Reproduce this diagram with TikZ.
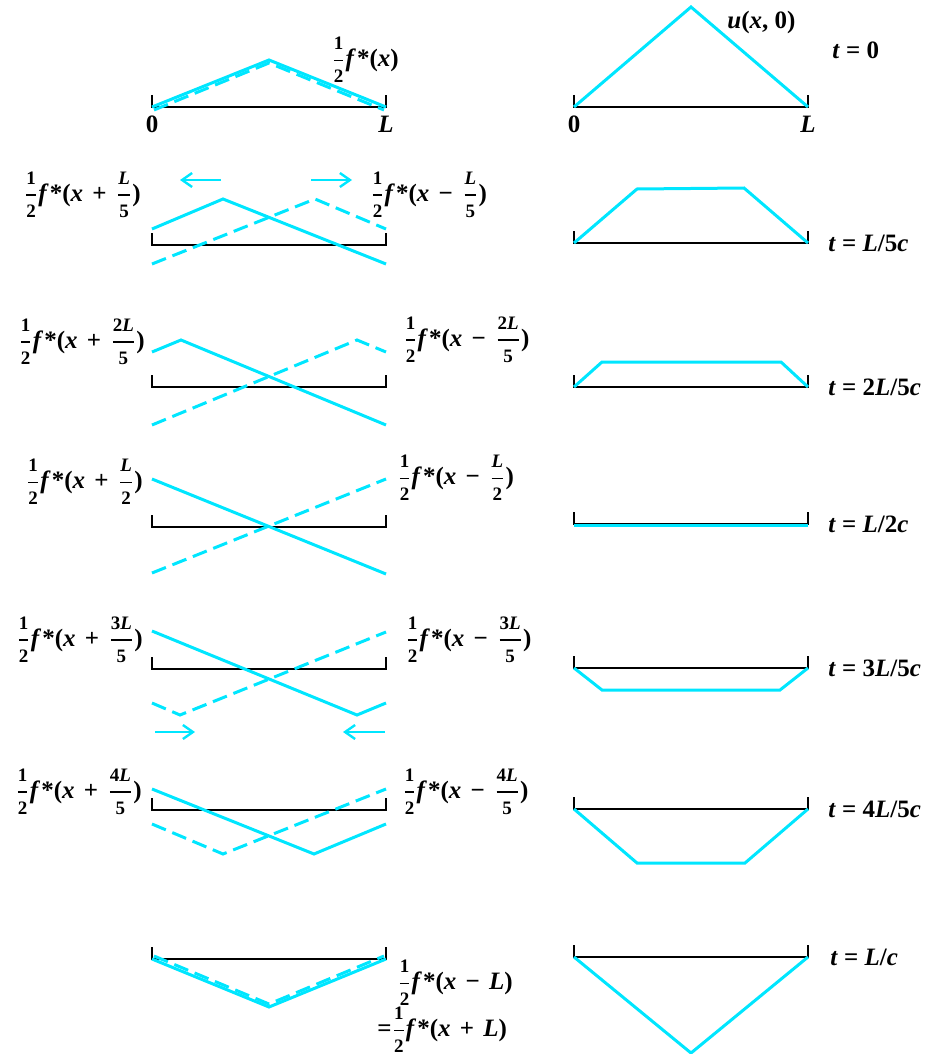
\documentclass[tikz,border=0pt]{standalone}
\usepackage{amsmath, amssymb}
\usepackage{fontspec}
\setmainfont{Liberation Serif}
\usepackage{tikz}
\usetikzlibrary{arrows.meta}
\usepackage{xcolor}
\definecolor{wavecyan}{RGB}{0,230,255}

\newcommand{\frpart}[1]{\text{\fontsize{9.5}{10}\selectfont #1}}
\newcommand{\fr}[2]{$\genfrac{}{}{0.6pt}{0}{\frpart{#1}}{\frpart{#2}}$}
\newcommand{\hf}{\fr{1}{2}}
\newcommand{\fs}{\textit{f}\kern0.5pt*}
\newcommand{\pl}{\kern1.5pt{} + \kern1.5pt}
\newcommand{\mn}{\kern1.5pt{} − \kern1.5pt}

\tikzset{
  wave/.style={wavecyan, line width=1.5pt, line join=miter},
  wavedash/.style={wave, dash pattern=on 7.5pt off 3.5pt},
  axis/.style={black, line width=0.7pt},
  lbl/.style={inner sep=0pt, font=\fontsize{12.5}{15}\selectfont\bfseries},
  move/.style={wavecyan, line width=1.2pt, -{Straight Barb[length=5pt, width=7pt, line width=1.2pt]}}
}

\begin{document}
\begin{tikzpicture}[x=0.5pt, y=-0.5pt]
  \useasboundingbox (0,0) rectangle (940,1054);

  % strings, left and right columns
  \foreach \y in {107,245,387,527,669,810,959}
    \draw[axis] (152,{\y-12}) -- (152,\y) -- (386,\y) -- (386,{\y-12});
  \foreach \y in {107,243,387,524,668,809,957}
    \draw[axis] (574,{\y-12}) -- (574,\y) -- (808,\y) -- (808,{\y-12});

  % t = 0
  \draw[wave] (152,107) -- (269,60) -- (386,107);
  \draw[wavedash, yshift=-1.5pt] (154,107) -- (269,60) -- (384,107);
  \draw[wave] (574,107) -- (691,7) -- (808,107);
  \node[lbl, anchor=west] (half0) at (331,60) {\hf\fs(\textit{x})};
  \node[lbl] (zeroA) at (152,124) {0};
  \node[lbl] (lenA) at (386,124) {\textit{L}};
  \node[lbl] (zeroB) at (574,124) {0};
  \node[lbl] (lenB) at (808,124) {\textit{L}};
  \node[lbl, anchor=west] (u0) at (727,22) {\textit{u}(\textit{x}, 0)};
  \node[lbl, anchor=west] (t0) at (832,50) {\textit{t} = 0};

  % t = L/5c
  \draw[wave] (152,229) -- (223,199) -- (386,264);
  \draw[wavedash] (152,264) -- (315,199) -- (386,229);
  \coordinate (la1) at (221,180); \coordinate (lb1) at (180,180);
  \coordinate (ra1) at (311,180); \coordinate (rb1) at (352,180);
  \draw[move] (la1) -- (lb1);
  \draw[move] (ra1) -- (rb1);
  \draw[wave] (574,243) -- (637,189) -- (744,188) -- (808,243);
  \node[lbl, anchor=east] (plus1) at (141,195) {\hf\fs(\textit{x}\pl\fr{\textit{L}}{5})};
  \node[lbl, anchor=west] (minus1) at (370,195) {\hf\fs(\textit{x}\mn\fr{\textit{L}}{5})};
  \node[lbl, anchor=west] (t1) at (828,243) {\textit{t} = \textit{L}/5\textit{c}};

  % t = 2L/5c
  \draw[wave] (152,352) -- (181,340) -- (386,425);
  \draw[wavedash] (152,425) -- (357,340) -- (386,352);
  \draw[wave] (574,387) -- (602,362) -- (781,362) -- (808,387);
  \node[lbl, anchor=east] (plus2) at (145,342) {\hf\fs(\textit{x}\pl\fr{2\textit{L}}{5})};
  \node[lbl, anchor=west] (minus2) at (403,340) {\hf\fs(\textit{x}\mn\fr{2\textit{L}}{5})};
  \node[lbl, anchor=west] (t2) at (828,387) {\textit{t} = 2\textit{L}/5\textit{c}};

  % t = L/2c
  \draw[wave] (152,479) -- (386,574);
  \draw[wavedash] (152,573) -- (386,479);
  \draw[wave] (574,525) -- (808,525);
  \node[lbl, anchor=east] (plus3) at (143,482) {\hf\fs(\textit{x}\pl\fr{\textit{L}}{2})};
  \node[lbl, anchor=west] (minus3) at (397,478) {\hf\fs(\textit{x}\mn\fr{\textit{L}}{2})};
  \node[lbl, anchor=west] (t3) at (828,524) {\textit{t} = \textit{L}/2\textit{c}};

  % t = 3L/5c
  \draw[wave] (152,631) -- (357,715) -- (386,703);
  \draw[wavedash] (152,703) -- (180,715) -- (386,632);
  \coordinate (la4) at (155,732); \coordinate (lb4) at (195,732);
  \coordinate (ra4) at (385,732); \coordinate (rb4) at (343,732);
  \draw[move] (la4) -- (lb4);
  \draw[move] (ra4) -- (rb4);
  \draw[wave] (574,668) -- (602,690) -- (780,690) -- (808,668);
  \node[lbl, anchor=east] (plus4) at (143,640) {\hf\fs(\textit{x}\pl\fr{3\textit{L}}{5})};
  \node[lbl, anchor=west] (minus4) at (405,640) {\hf\fs(\textit{x}\mn\fr{3\textit{L}}{5})};
  \node[lbl, anchor=west] (t4) at (828,668) {\textit{t} = 3\textit{L}/5\textit{c}};

  % t = 4L/5c
  \draw[wave] (152,789) -- (314,854) -- (386,824);
  \draw[wavedash] (152,824) -- (223,854) -- (386,789);
  \draw[wave] (574,809) -- (637,863) -- (745,863) -- (808,809);
  \node[lbl, anchor=east] (plus5) at (142,792) {\hf\fs(\textit{x}\pl\fr{4\textit{L}}{5})};
  \node[lbl, anchor=west] (minus5) at (402,792) {\hf\fs(\textit{x}\mn\fr{4\textit{L}}{5})};
  \node[lbl, anchor=west] (t5) at (828,809) {\textit{t} = 4\textit{L}/5\textit{c}};

  % t = L/c
  \draw[wave] (152,959) -- (269,1007) -- (386,959);
  \draw[wavedash, yshift=1.5pt] (154,959) -- (269,1007) -- (384,959);
  \draw[wave] (574,957) -- (691,1053) -- (808,957);
  \node[lbl, anchor=west] (minus6) at (397,983) {\hf\fs(\textit{x}\mn\textit{L})};
  \node[lbl, anchor=west] (plus6) at (377,1030) {=\hf\fs(\textit{x}\pl\textit{L})};
  \node[lbl, anchor=west] (t6) at (830,957) {\textit{t} = \textit{L}/\textit{c}};
\end{tikzpicture}
\end{document}
